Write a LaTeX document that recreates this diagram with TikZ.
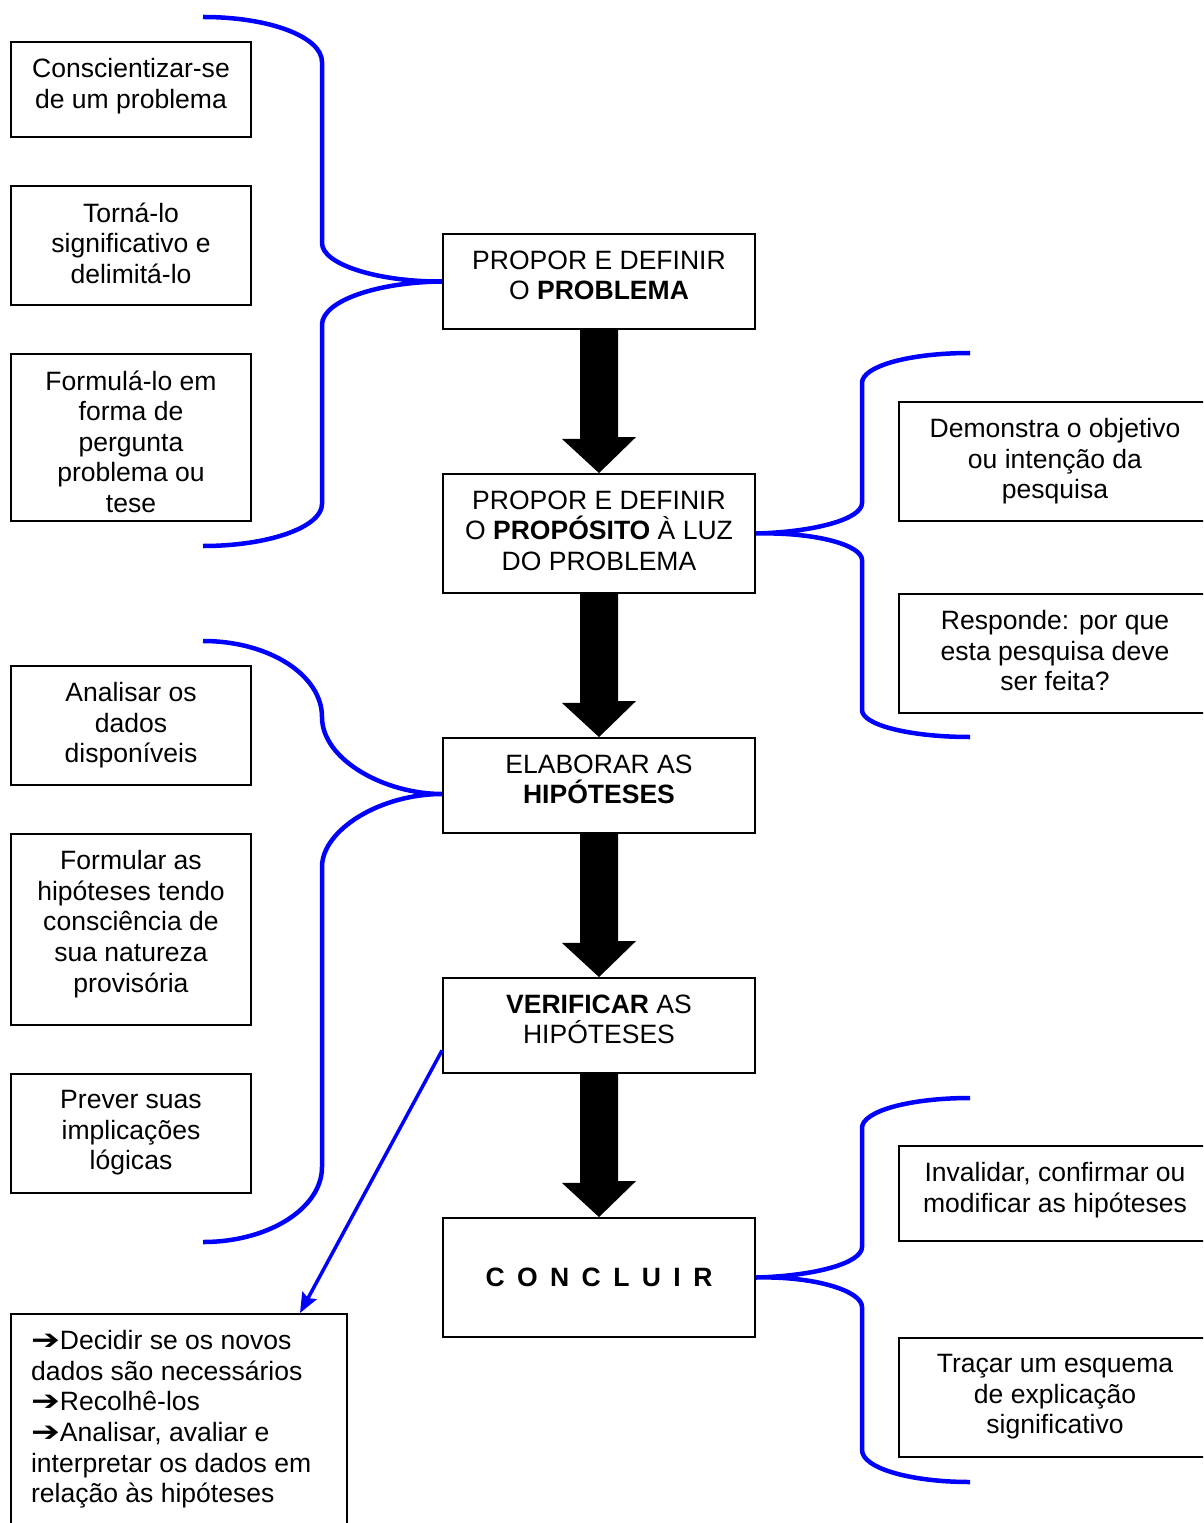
\documentclass[tikz,border=0pt]{standalone}
\usepackage{fontspec}
\setmainfont{Liberation Sans}
\newfontfamily\dingfont{DejaVu Sans}
\usepackage{tikz}
\usetikzlibrary{arrows.meta}
\newcommand{\seta}{\scalebox{1.3}[1.05]{\dingfont ➔}}

\begin{document}
\begin{tikzpicture}[x=0.02cm, y=-0.02cm, thick]
\useasboundingbox (0,0) rectangle (1203,1523);
\clip (0,0) rectangle (1203,1523);
\tikzstyle{every node} = [draw, line width=1.1pt, inner sep=0pt, minimum width=6.24cm, minimum height=1.9cm]
\tikzstyle{side} = [minimum width=4.8cm]
\tikzstyle{tall} = [minimum height=2.38cm]
\tikzstyle{txt} = [draw=none, anchor=north, align=center, minimum width=0pt, minimum height=0pt, inner sep=0pt, inner ysep=0.33cm, font=\fontsize{15.1}{17.4}\selectfont, execute at begin node=\strut]
\node (1) at (599,281.5) [label={[txt]north:{PROPOR E DEFINIR\\O \textbf{PROBLEMA}}}] {};
\node (2) at (599,533.5) [tall, label={[txt]north:{PROPOR E DEFINIR\\O \textbf{PROPÓSITO} À LUZ\\DO PROBLEMA}}] {};
\node (3) at (599,785.5) [label={[txt]north:{ELABORAR AS\\\textbf{HIPÓTESES}}}] {};
\node (4) at (599,1025.5) [label={[txt]north:{\textbf{VERIFICAR} AS\\HIPÓTESES}}] {};
\node (5) at (599,1277.5) [tall, font=\fontsize{15.1}{17.4}\selectfont\bfseries\addfontfeature{LetterSpace=19}] {C O N C L U I R};
\node (6) at (131,89.5) [side, label={[txt]north:{Conscientizar-se\\de um problema}}] {};
\node (7) at (131,245.5) [side, tall, label={[txt]north:{Torná-lo\\significativo e\\delimitá-lo}}] {};
\node (8) at (131,437.5) [side, minimum height=3.34cm, label={[txt]north:{Formulá-lo em\\forma de\\pergunta\\problema ou\\tese}}] {};
\node (9) at (131,725.5) [side, tall, label={[txt]north:{Analisar os\\dados\\disponíveis}}] {};
\node (10) at (131,929.5) [side, minimum height=3.82cm, label={[txt]north:{Formular as\\hipóteses tendo\\consciência de\\sua natureza\\provisória}}] {};
\node (11) at (131,1133.5) [side, tall, label={[txt]north:{Prever suas\\implicações\\lógicas}}] {};
\node (12) at (1055,461.5) [tall, label={[txt]north:{Demonstra o objetivo\\ou intenção da\\pesquisa}}] {};
\node (13) at (1055,653.5) [tall, label={[txt]north:{Responde: por que\\esta pesquisa deve\\ser feita?}}] {};
\node (14) at (1055,1193.5) [label={[txt]north:{Invalidar, confirmar ou\\modificar as hipóteses}}] {};
\node (15) at (1055,1397.5) [tall, label={[txt]north:{Traçar um esquema\\de explicação\\significativo}}] {};
\node (16) at (179,1427) [minimum width=6.72cm, minimum height=4.52cm, label={[txt, anchor=north west, align=left, inner xsep=0.4cm]north west:{\seta Decidir se os novos\\dados são necessários\\\seta Recolhê-los\\\seta Analisar, avaliar e\\interpretar os dados em\\relação às hipóteses}}] {};
\tikzstyle{every node} = []
\tikzstyle{brace} = [blue, line width=0.09cm]
\foreach \a/\b in {1/2, 2/3, 3/4, 4/5}
  \fill (\a.south) ++(-19,0) -- ++(0,109) -- ++(-18,0) -- (\b.north) -- ++(37,-36) -- ++(-18,0) -- ++(0,-109) -- cycle;
\draw[brace] (203,17) .. controls (270,17) and (322,37) .. (322,62) -- (322,243) .. controls (322,265) and (380,282) .. (1.west) .. controls (380,282) and (322,300) .. (322,325) -- (322,504) .. controls (322,527) and (269,546) .. (203,546);
\draw[brace] (970,353) .. controls (910,353) and (862,366) .. (862,383) -- (862,503) .. controls (862,519) and (815,532) .. (2.east) .. controls (815,532) and (862,545) .. (862,560) -- (862,710) .. controls (862,725) and (910,737) .. (970,737);
\draw[brace] (203,641) .. controls (269,641) and (322,675) .. (322,717) .. controls (322,760) and (385,794) .. ([yshift=-0.17cm]3.west) .. controls (380,794) and (322,830) .. (322,867) -- (322,1167) .. controls (322,1208) and (269,1242) .. (203,1242);
\draw[brace] (970,1098) .. controls (910,1098) and (862,1111) .. (862,1128) -- (862,1247) .. controls (862,1263) and (815,1276) .. (5.east) .. controls (815,1276) and (862,1291) .. (862,1307) -- (862,1450) .. controls (862,1468) and (910,1482) .. (970,1482);
\draw[blue, line width=0.07cm, -{Stealth[length=0.4cm, width=0.32cm, inset=0.06cm]}] (4.189) -- ([xshift=2.42cm]16.north);
\end{tikzpicture}
\end{document}
